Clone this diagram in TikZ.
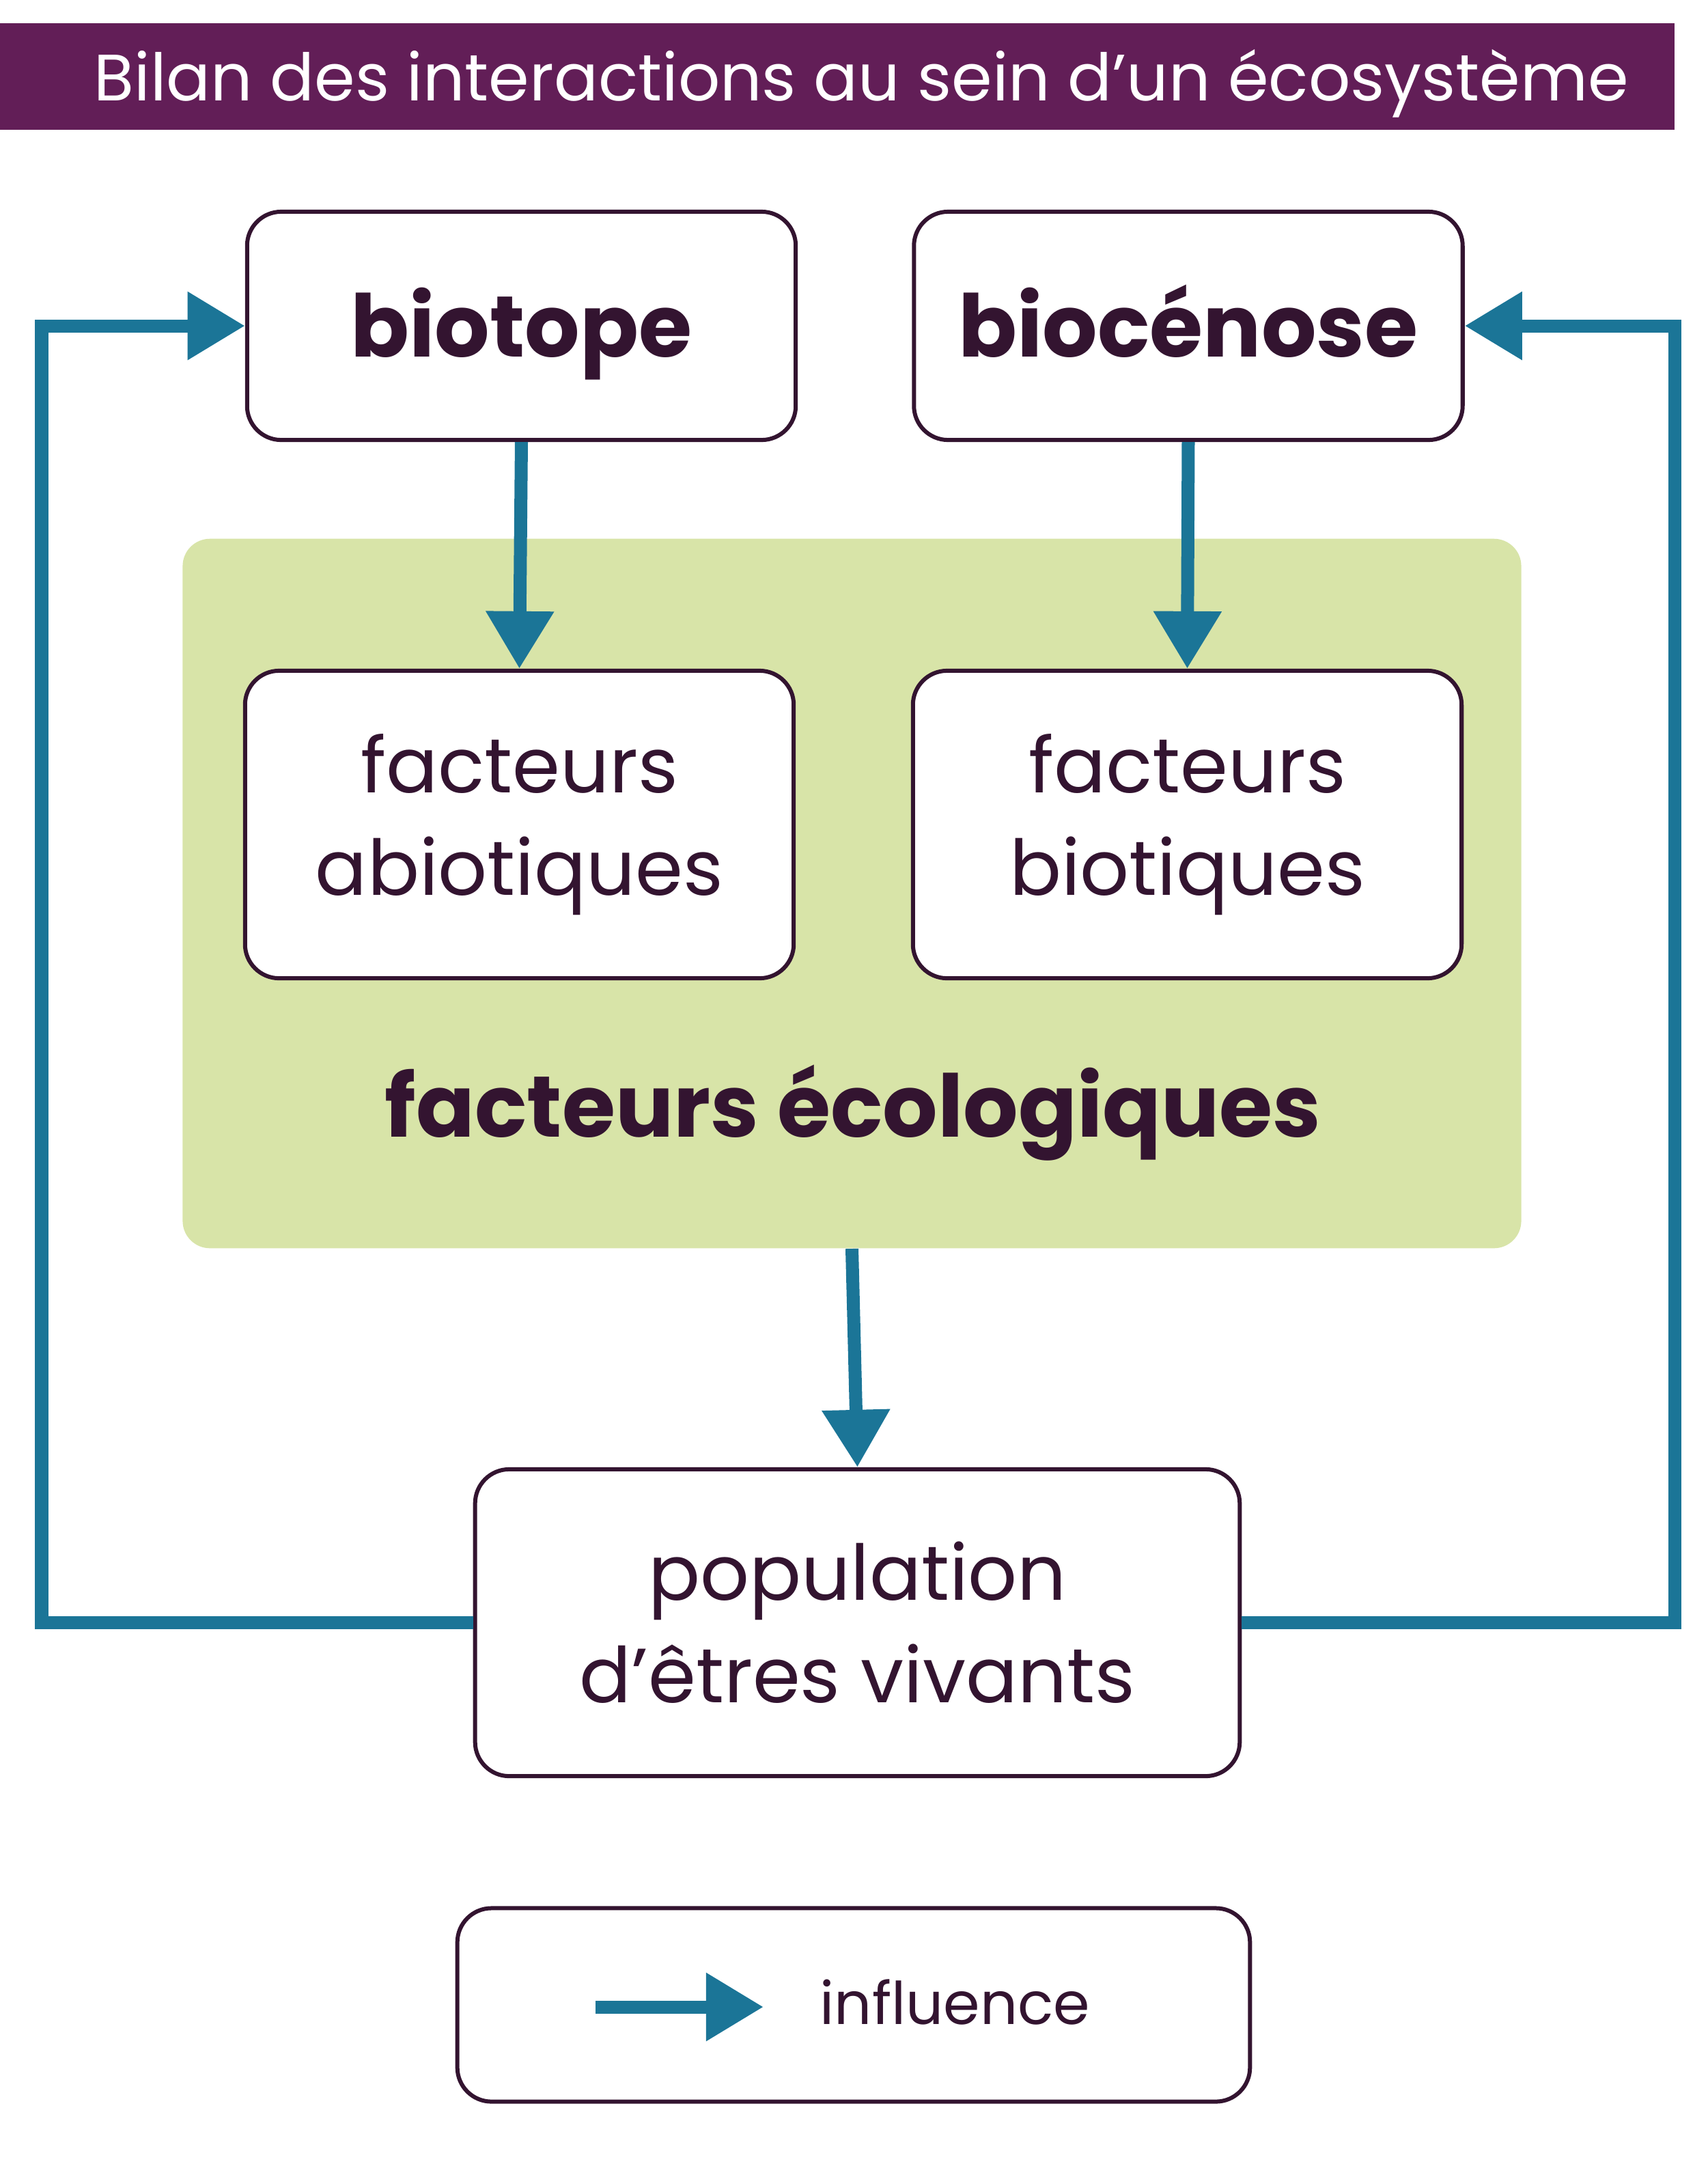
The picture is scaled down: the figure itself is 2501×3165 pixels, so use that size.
\documentclass[tikz,border=0pt]{standalone}
\usepackage{fontspec}
\setmainfont{Poppins}
\usetikzlibrary{arrows.meta}
\definecolor{titre}{HTML}{621E57}
\definecolor{encre}{HTML}{331430}
\definecolor{fleche}{HTML}{1B7597}
\definecolor{vert}{HTML}{D8E4A8}
\tikzset{
  boite/.style={draw=encre, line width=0.06cm, rounded corners=0.5cm, fill=white,
    text=encre, align=center, inner sep=0pt},
  gras/.style={font=\fontsize{36}{42}\selectfont\bfseries},
  grasboite/.style={gras, text height=1.2cm, text depth=0.3cm},
  maigre/.style={font=\fontsize{32}{42.7}\selectfont},
  influe/.style={draw=fleche, line width=0.19cm, -{Triangle[width=0.95cm,length=0.84cm]}},
}
\begin{document}
\begin{tikzpicture}[x=0.01cm, y=-0.01cm]
    \useasboundingbox (0,0) rectangle (2501,3165);

    % bandeau du titre
    \fill[titre] (0,34) rectangle (2452,190);
    \node[anchor=base west, text=white, inner sep=0pt, font=\fontsize{27.3}{32}\selectfont] (titre) at (137,147)
        {Bilan des interactions au sein d’un écosystème};

    % cadre des facteurs
    \node[fill=vert, rounded corners=0.4cm, minimum width=19.59cm, minimum height=10.38cm] (eco) at (1247.5,1308) {};
    \node[gras, text=encre, anchor=base] (ecotexte) at (1249,1664) {facteurs écologiques};

    \node[boite, grasboite, minimum width=8.03cm, minimum height=3.34cm] (biotope) at (763.5,477) {biotope};
    \node[boite, grasboite, minimum width=8.03cm, minimum height=3.34cm] (biocenose) at (1740,477) {biocénose};
    \node[boite, maigre, minimum width=8.03cm, minimum height=4.5cm] (abio) at (760.5,1207) {facteurs\\abiotiques};
    \node[boite, maigre, minimum width=8.03cm, minimum height=4.5cm] (bio) at (1738.5,1207) {facteurs\\biotiques};
    \node[boite, maigre, minimum width=11.19cm, minimum height=4.49cm] (pop) at (1255.5,2375.5) {population\\d’êtres vivants};

    \draw[influe] (biotope.south) -- (abio.north);
    \draw[influe] (biocenose.south) -- (bio.north);
    \draw[influe] (eco.south) -- (pop.north);

    % boucles de retour
    \coordinate (coingauche) at (61,2375.5);
    \coordinate (coindroit) at (2452,2375.5);
    \draw[influe] (pop.west) -- (coingauche) |- (biotope.west);
    \draw[influe] (pop.east) -- (coindroit) |- (biocenose.east);

    % legende
    \node[boite, minimum width=11.6cm, minimum height=2.83cm] (legende) at (1250,2935) {};
    \coordinate (legdebut) at (872,2938);
    \coordinate (legfin) at (1118,2938);
    \draw[influe] (legdebut) -- (legfin);
    \node[anchor=base west, inner sep=0pt, text=encre, font=\fontsize{24.5}{30}\selectfont] (legtexte) at (1200,2963) {influence};
\end{tikzpicture}
\end{document}
